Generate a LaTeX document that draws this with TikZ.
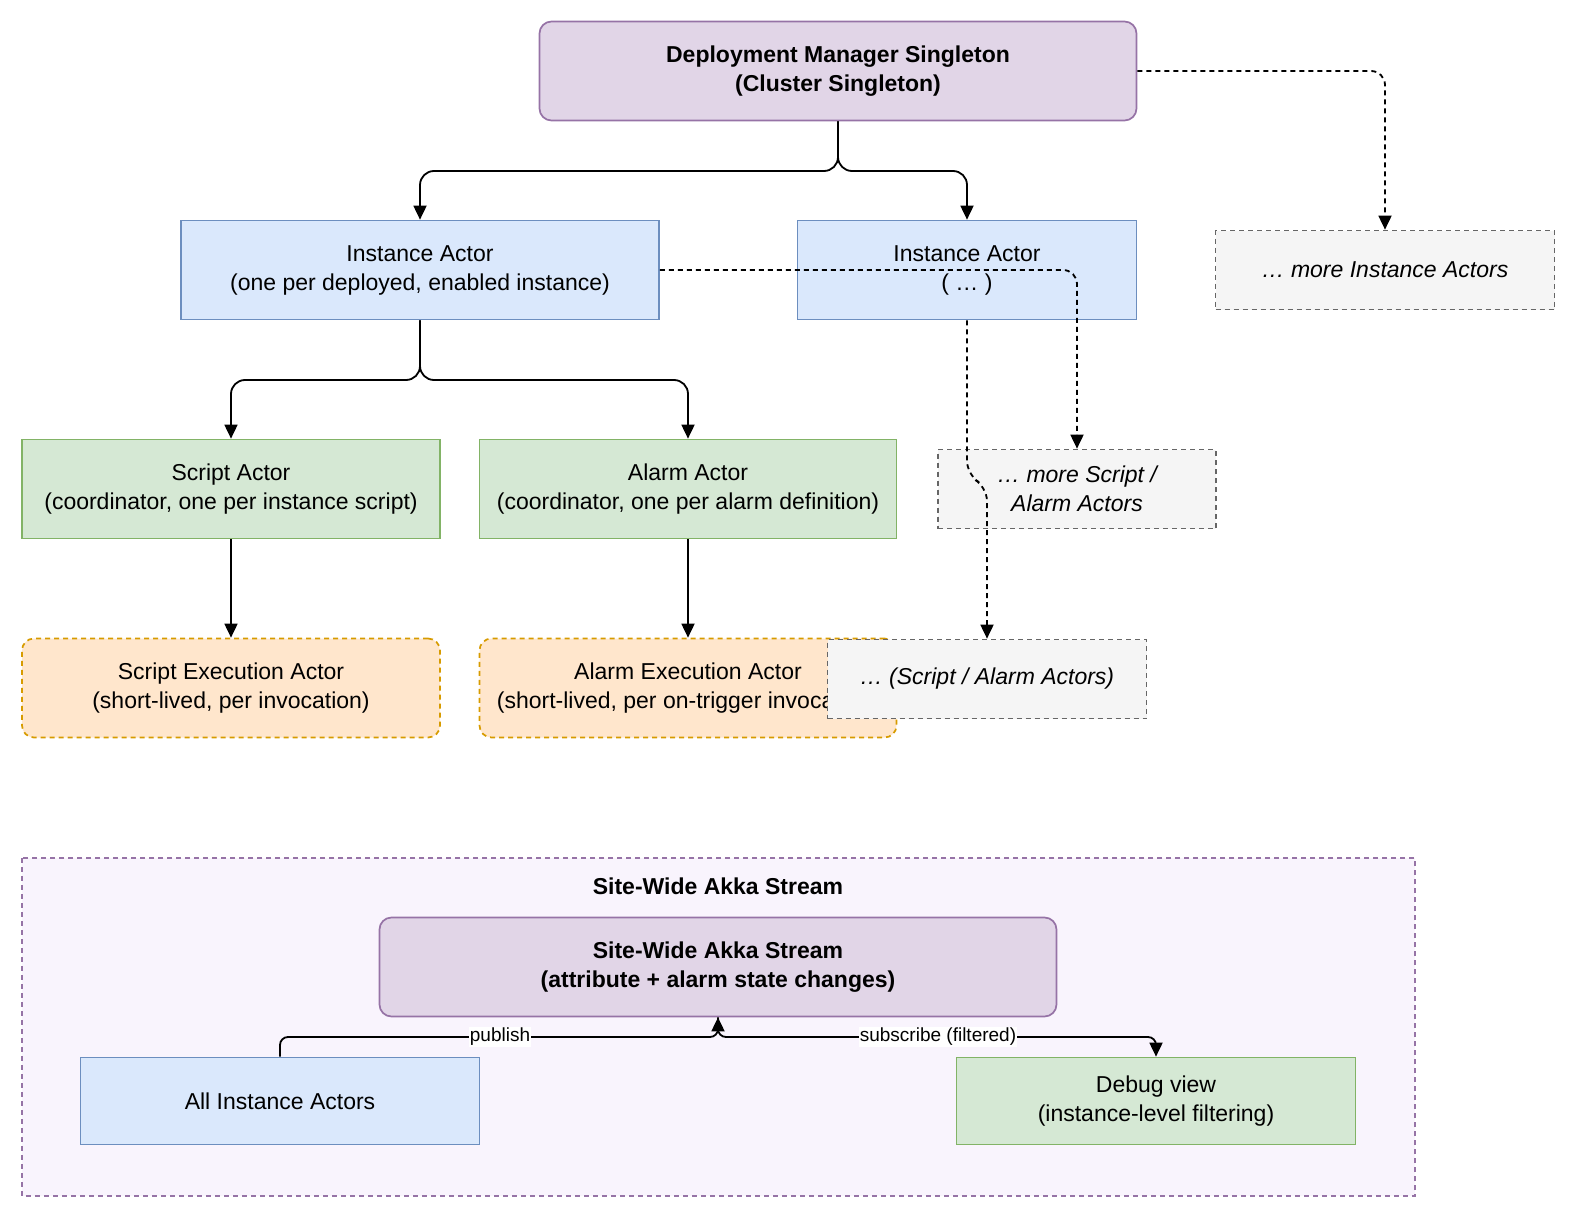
\documentclass[tikz,border=0pt]{standalone}
\usepackage{fontspec}
\setmainfont{Liberation Sans}
\usetikzlibrary{arrows.meta}
\definecolor{pf}{HTML}{E1D5E7}\definecolor{pd}{HTML}{9673A6}
\definecolor{bf}{HTML}{DAE8FC}\definecolor{bd}{HTML}{6C8EBF}
\definecolor{gf}{HTML}{D5E8D4}\definecolor{gd}{HTML}{82B366}
\definecolor{of}{HTML}{FFE6CC}\definecolor{od}{HTML}{D79B00}
\definecolor{xf}{HTML}{F5F5F5}\definecolor{xd}{HTML}{666666}
\definecolor{cf}{HTML}{F9F4FD}
\tikzset{
 dsh/.style={dash pattern=on 5pt off 4pt},
 box/.style={draw,line width=1.7pt,align=center,inner sep=0pt,font=\fontsize{23}{29}\selectfont},
 purp/.style={box,fill=pf,draw=pd,rounded corners=12pt},
 blue/.style={box,fill=bf,draw=bd},
 green/.style={box,fill=gf,draw=gd},
 orng/.style={box,fill=of,draw=od,dsh,rounded corners=12pt},
 grey/.style={box,fill=xf,draw=xd,dsh,font=\fontsize{23}{29}\selectfont\itshape},
 ar/.style={line width=1.8pt,rounded corners=14pt,-{Triangle[length=14pt,width=13pt]}},
 dar/.style={ar,dsh},
 lbl/.style={fill=white,inner sep=1pt,font=\fontsize{19}{22}\selectfont}
}
\begin{document}
\begin{tikzpicture}[x=1pt,y=-1pt]
\useasboundingbox (0,0) rectangle (1575,1215);
\draw[pd,dsh,line width=1.7pt,fill=cf] (22,858) rectangle (1415,1196);
\node[font=\fontsize{23}{29}\selectfont\bfseries] (ttl) at (718,886) {Site-Wide Akka Stream};
\node[purp,minimum width=597pt,minimum height=99pt,font=\fontsize{23}{29}\selectfont\bfseries] (dm) at (838,71) {Deployment Manager Singleton\\(Cluster Singleton)};
\node[blue,minimum width=478pt,minimum height=99pt] (ia1) at (420,270) {Instance Actor\\(one per deployed, enabled instance)};
\node[blue,minimum width=339pt,minimum height=99pt] (ia2) at (967,270) {Instance Actor\\( … )};
\node[grey,minimum width=339pt,minimum height=79pt] (mia) at (1385,270) {… more Instance Actors};
\node[green,minimum width=418pt,minimum height=99pt] (sa) at (231,489) {Script Actor\\(coordinator, one per instance script)};
\node[green,minimum width=417pt,minimum height=99pt] (aa) at (688,489) {Alarm Actor\\(coordinator, one per alarm definition)};
\node[grey,minimum width=278pt,minimum height=79pt] (msa) at (1077,489) {… more Script /\\Alarm Actors};
\node[orng,minimum width=418pt,minimum height=99pt] (se) at (231,688) {Script Execution Actor\\(short-lived, per invocation)};
\node[orng,minimum width=417pt,minimum height=99pt] (ae) at (688,688) {Alarm Execution Actor\\(short-lived, per on-trigger invocation)};
\node[grey,minimum width=319pt,minimum height=79pt] (dsa) at (987,679) {… (Script / Alarm Actors)};
\node[purp,minimum width=677pt,minimum height=99pt,font=\fontsize{23}{29}\selectfont\bfseries] (st) at (718,967) {Site-Wide Akka Stream\\(attribute + alarm state changes)};
\node[blue,minimum width=399pt,minimum height=87pt] (all) at (280,1101) {All Instance Actors};
\node[green,minimum width=399pt,minimum height=87pt] (dbg) at (1156,1101) {Debug view\\(instance-level filtering)};
\draw[ar] (dm.south) -- (838,171) -- (420,171) -- (ia1.north);
\draw[ar] (dm.south) -- (838,171) -- (967,171) -- (ia2.north);
\draw[dar] (dm.east) -- (1385,71) -- (mia.north);
\draw[dar] (ia1.east) -- (1077,270) -- (msa.north);
\draw[dar] (ia2.south) -- (967,475) -- (987,487) -- (dsa.north);
\draw[ar] (ia1.south) -- (420,380) -- (231,380) -- (sa.north);
\draw[ar] (ia1.south) -- (420,380) -- (688,380) -- (aa.north);
\draw[ar] (sa.south) -- (se.north);
\draw[ar] (aa.south) -- (ae.north);
\draw[ar,rounded corners=8pt] (all.north) -- (280,1037) -- (718,1037) -- (st.south);
\draw[ar,rounded corners=8pt] (st.south) -- (718,1037) -- (1156,1037) -- (dbg.north);
\node[lbl] (pl) at (500,1037) {publish};
\node[lbl] (sl) at (938,1037) {subscribe (filtered)};
\end{tikzpicture}
\end{document}
